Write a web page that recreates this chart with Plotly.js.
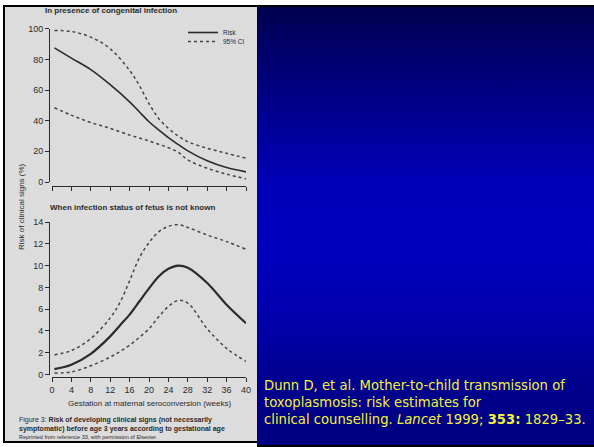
<!DOCTYPE html>
<html>
<head>
<meta charset="utf-8">
<script src="https://cdn.plot.ly/plotly-3.0.1.min.js"></script>
<style>
html,body{margin:0;padding:0;background:#fff;}
#plot{width:594px;height:447px;
background:
 linear-gradient(#000,#000) 257px 5px/337px 2px no-repeat,
 linear-gradient(#000,#000) 257px 445px/337px 2px no-repeat,
 linear-gradient(to bottom,#000050 0%,#00008a 22%,#0000b8 40%,#0000be 55%,#0000ae 70%,#00008f 85%,#000080 100%) 257px 7px/337px 438px no-repeat,
 #fff;}
</style>
</head>
<body>
<div id="plot"></div>
<script>
// Top panel: in presence of congenital infection (risk %, 95% CI)
const weeksTop = [0.5, 4, 8, 12, 16, 18, 20, 22, 24, 26, 28, 32, 36, 40];
const riskTop  = [87.5, 80.8, 73.3, 63.5, 52.3, 45.8, 39.3, 34, 28.9, 24.5, 20.3, 13.8, 9.4, 6.6];
const upperTop = [98.8, 98.2, 94.5, 86.9, 72.8, 63, 51.2, 41.4, 35, 30, 26.3, 22, 18.7, 15.5];
const lowerTop = [48.4, 43.6, 38.8, 35, 30.6, 28.7, 26.8, 24.6, 22.4, 19.4, 14.4, 9, 5.1, 2.1];

// Bottom panel: when infection status of fetus is not known
const weeksBot = [0.5, 4, 8, 12, 14, 16, 18, 20, 22, 24, 26, 28, 32, 36, 40];
const riskBot  = [0.5, 0.9, 1.9, 3.5, 4.5, 5.5, 6.7, 7.9, 9.0, 9.7, 10.0, 9.8, 8.4, 6.4, 4.7];
const upperBot = [1.8, 2.2, 3.3, 5.2, 6.6, 8.6, 10.7, 12.1, 13.1, 13.6, 13.75, 13.5, 12.8, 12.2, 11.5];
const lowerBot = [0.14, 0.23, 0.8, 1.6, 2.1, 2.7, 3.4, 4.2, 5.3, 6.25, 6.8, 6.55, 4.2, 2.4, 1.2];

const xTicks = [0, 4, 8, 12, 16, 20, 24, 28, 32, 36, 40];

const W = 594, H = 447;
const px = v => v / W;
const py = v => 1 - v / H;
const ink = '#2b2b2b';
const FONT = 'Liberation Sans, Arial, sans-serif';

const riskLine = {color: ink, width: 1.6, shape: 'spline', smoothing: 1};
const ciLine = {color: '#444', width: 1.5, dash: 'dot', shape: 'spline', smoothing: 1};

const data = [
  {x: weeksTop, y: riskTop, mode: 'lines', name: 'Risk', line: riskLine, xaxis: 'x', yaxis: 'y', legend: 'legend', showlegend: true},
  {x: weeksTop, y: upperTop, mode: 'lines', name: '95% CI', line: ciLine, xaxis: 'x', yaxis: 'y', legend: 'legend2', showlegend: true},
  {x: weeksTop, y: lowerTop, mode: 'lines', name: '95% CI', line: ciLine, xaxis: 'x', yaxis: 'y', showlegend: false},
  {x: weeksBot, y: riskBot, mode: 'lines', name: 'Risk', line: Object.assign({}, riskLine, {width: 2.2}), xaxis: 'x2', yaxis: 'y2', showlegend: false},
  {x: weeksBot, y: upperBot, mode: 'lines', name: '95% CI', line: ciLine, xaxis: 'x2', yaxis: 'y2', showlegend: false},
  {x: weeksBot, y: lowerBot, mode: 'lines', name: '95% CI', line: ciLine, xaxis: 'x2', yaxis: 'y2', showlegend: false}
];

const axBase = {showline: true, linecolor: ink, linewidth: 1, ticks: 'outside', ticklen: 4, tickwidth: 1,
  tickcolor: ink, showgrid: false, zeroline: false, fixedrange: true,
  tickfont: {family: FONT, size: 9, color: ink}};

const layout = {
  width: W, height: H,
  margin: {l: 0, r: 0, t: 0, b: 0},
  paper_bgcolor: 'rgba(0,0,0,0)',
  plot_bgcolor: 'rgba(0,0,0,0)',
  font: {family: FONT, color: ink},
  xaxis: Object.assign({}, axBase, {domain: [px(52), px(246)], range: [0, 40], anchor: 'free', position: py(186),
    tickvals: xTicks, showticklabels: false}),
  yaxis: Object.assign({}, axBase, {domain: [py(182), py(28.7)], range: [0, 100], anchor: 'free', position: px(49), dtick: 20, tick0: 0}),
  xaxis2: Object.assign({}, axBase, {domain: [px(52), px(246)], range: [0, 40], anchor: 'free', position: py(377),
    tickvals: xTicks, ticktext: xTicks.map(String)}),
  yaxis2: Object.assign({}, axBase, {domain: [py(374.5), py(222)], range: [0, 14], anchor: 'free', position: px(49), dtick: 2, tick0: 0}),
  legend: {x: px(183), y: py(18), xanchor: 'left', yanchor: 'top', bgcolor: 'rgba(0,0,0,0)', borderwidth: 0,
    font: {family: FONT, size: 6.5, color: ink}, itemwidth: 30},
  legend2: {x: px(183), y: py(27), xanchor: 'left', yanchor: 'top', bgcolor: 'rgba(0,0,0,0)', borderwidth: 0,
    font: {family: FONT, size: 6.5, color: ink}, itemwidth: 30},
  shapes: [
    {type: 'rect', xref: 'paper', yref: 'paper', x0: px(5), x1: px(257), y0: py(441), y1: py(7), fillcolor: '#dcdcdc', line: {width: 0}, layer: 'below'},
    {type: 'rect', xref: 'paper', yref: 'paper', x0: px(3), x1: px(5), y0: py(443), y1: py(5), fillcolor: '#000', line: {width: 0}, layer: 'below'},
    {type: 'rect', xref: 'paper', yref: 'paper', x0: px(3), x1: px(257), y0: py(7), y1: py(5), fillcolor: '#000', line: {width: 0}, layer: 'below'},
    {type: 'rect', xref: 'paper', yref: 'paper', x0: px(3), x1: px(257), y0: py(443), y1: py(441), fillcolor: '#000', line: {width: 0}, layer: 'below'}
  ],
  annotations: [
    {text: '<b>In presence of congenital infection</b>', xref: 'paper', yref: 'paper', x: px(43), y: py(10),
      xanchor: 'left', yanchor: 'middle', showarrow: false, font: {family: FONT, size: 8, color: ink}},
    {text: '<b>When infection status of fetus is not known</b>', xref: 'paper', yref: 'paper', x: px(48), y: py(208),
      xanchor: 'left', yanchor: 'middle', showarrow: false, font: {family: FONT, size: 8, color: ink}},
    {text: 'Risk of clinical signs (%)', xref: 'paper', yref: 'paper', x: px(21), y: py(207), textangle: -90,
      xanchor: 'center', yanchor: 'middle', showarrow: false, font: {family: FONT, size: 8, color: ink}},
    {text: 'Gestation at maternal seroconversion (weeks)', xref: 'paper', yref: 'paper', x: px(150), y: py(403),
      xanchor: 'center', yanchor: 'middle', showarrow: false, font: {family: FONT, size: 8, color: ink}},
    {text: 'Figure 3: <b>Risk of developing clinical signs (not necessarily<br>symptomatic) before age 3 years according to gestational age</b>',
      xref: 'paper', yref: 'paper', x: px(17), y: py(424.5), xanchor: 'left', yanchor: 'middle', align: 'left',
      showarrow: false, font: {family: FONT, size: 7, color: ink}},
    {text: 'Reprinted from reference 33, with permission of Elsevier.', xref: 'paper', yref: 'paper', x: px(17), y: py(437),
      xanchor: 'left', yanchor: 'middle', showarrow: false, font: {family: FONT, size: 5.5, color: ink}},
    {text: 'Dunn D, et al. Mother-to-child transmission of<br>toxoplasmosis: risk estimates for<br>clinical counselling. <i>Lancet</i> 1999; <b>353:</b> 1829–33.',
      xref: 'paper', yref: 'paper', x: px(262), y: py(402), xanchor: 'left', yanchor: 'middle', align: 'left',
      showarrow: false, font: {family: 'DejaVu Sans, sans-serif', size: 13.2, color: '#f2f23c'}}
  ]
};

Plotly.newPlot('plot', data, layout, {staticPlot: true, displayModeBar: false});
</script>
</body>
</html>
